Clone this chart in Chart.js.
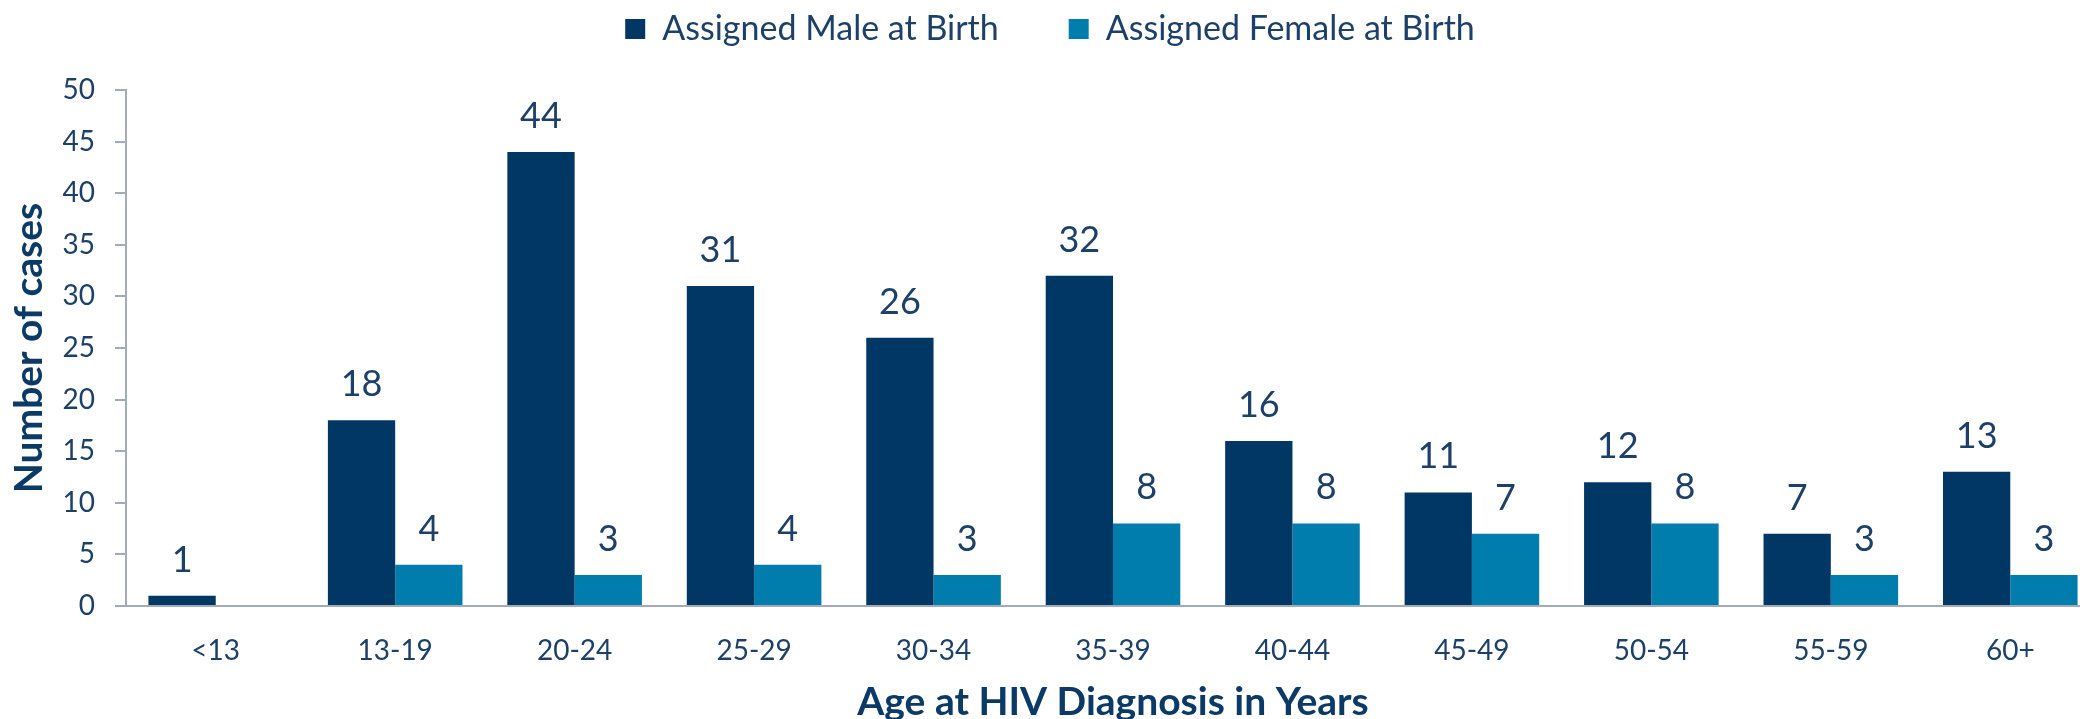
<!DOCTYPE html>
<html>
<head>
<meta charset="utf-8">
<script src="https://cdn.jsdelivr.net/npm/chart.js@4.4.0/dist/chart.umd.min.js"></script>
<style>
  html, body { margin: 0; padding: 0; background: #ffffff; overflow: hidden; }
  /* the plot runs slightly past the right edge, as in the original */
  #wrap { width: 2080px; height: 719px; overflow: hidden; }
</style>
</head>
<body>
<div id="wrap"><canvas id="chart" width="2100" height="719"></canvas></div>
<script>
// age groups and case counts
var categories = ['<13', '13-19', '20-24', '25-29', '30-34', '35-39', '40-44', '45-49', '50-54', '55-59', '60+'];
var maleCases = [1, 18, 44, 31, 26, 32, 16, 11, 12, 7, 13];
var femaleCases = [null, 4, 3, 4, 3, 8, 8, 7, 8, 3, 3];
var yTicks = [0, 5, 10, 15, 20, 25, 30, 35, 40, 45, 50];

var textColor = '#1d4068';
var titleColor = '#0b3a66';
var axisColor = '#a3aab8';
var fontName = 'Lato, "Open Sans", sans-serif';

// value labels above each bar
var barValues = {
    id: 'barValues',
    afterDatasetsDraw: function(chart) {
        var ctx = chart.ctx;
        ctx.save();
        ctx.font = '36px ' + fontName;
        ctx.fillStyle = textColor;
        ctx.textAlign = 'center';
        ctx.textBaseline = 'alphabetic';
        chart.data.datasets.forEach(function(ds, i) {
            var meta = chart.getDatasetMeta(i);
            meta.data.forEach(function(bar, j) {
                var v = ds.data[j];
                if (v === null || v === undefined) return;
                ctx.fillText(v, bar.x, bar.y - 24);
            });
        });
        ctx.restore();
    }
};

var ctx = document.getElementById('chart').getContext('2d');
var chart = new Chart(ctx, {
    type: 'bar',
    data: {
        labels: categories,
        datasets: [{
            label: 'Assigned Male at Birth',
            data: maleCases,
            backgroundColor: '#003764'
        }, {
            label: 'Assigned Female at Birth',
            data: femaleCases,
            backgroundColor: '#007dad'
        }]
    },
    options: {
        responsive: false,
        animation: false,
        layout: {
            padding: { left: 0, right: 0, top: -58, bottom: 0 }
        },
        plugins: {
            legend: {
                position: 'top',
                labels: {
                    boxWidth: 20,
                    boxHeight: 20,
                    padding: 70,
                    color: textColor,
                    font: { family: fontName, size: 34 }
                }
            },
            // empty subtitle used as a gap between legend and plot
            subtitle: {
                display: true,
                text: '',
                position: 'top',
                weight: 500,
                padding: 0,
                font: { size: 34, lineHeight: 1 }
            },
            tooltip: { enabled: false }
        },
        datasets: {
            bar: {
                categoryPercentage: 0.75,
                barPercentage: 1.0
            }
        },
        scales: {
            x: {
                afterFit: function(scale) { scale.height = 113; },
                grid: { display: false },
                border: { display: true, color: axisColor, width: 2 },
                ticks: {
                    color: textColor,
                    padding: 20,
                    font: { family: fontName, size: 28 }
                },
                title: {
                    display: true,
                    text: 'Age at HIV Diagnosis in Years',
                    color: titleColor,
                    padding: { top: 0, bottom: -3 },
                    font: { family: fontName, size: 39, weight: 'bold', lineHeight: 1 }
                }
            },
            y: {
                min: 0,
                max: 50,
                afterFit: function(scale) { scale.width = 126; },
                afterBuildTicks: function(scale) {
                    scale.ticks = yTicks.map(function(v) { return { value: v }; });
                },
                grid: {
                    drawOnChartArea: false,
                    drawTicks: true,
                    tickLength: 11,
                    color: axisColor,
                    lineWidth: 2
                },
                border: { display: true, color: axisColor, width: 2 },
                ticks: {
                    color: textColor,
                    padding: 20,
                    font: { family: fontName, size: 28 }
                },
                title: {
                    display: true,
                    text: 'Number of cases',
                    color: titleColor,
                    padding: { top: 6, bottom: 0 },
                    font: { family: fontName, size: 39, weight: 'bold' }
                }
            }
        }
    },
    plugins: [barValues]
});
</script>
</body>
</html>
